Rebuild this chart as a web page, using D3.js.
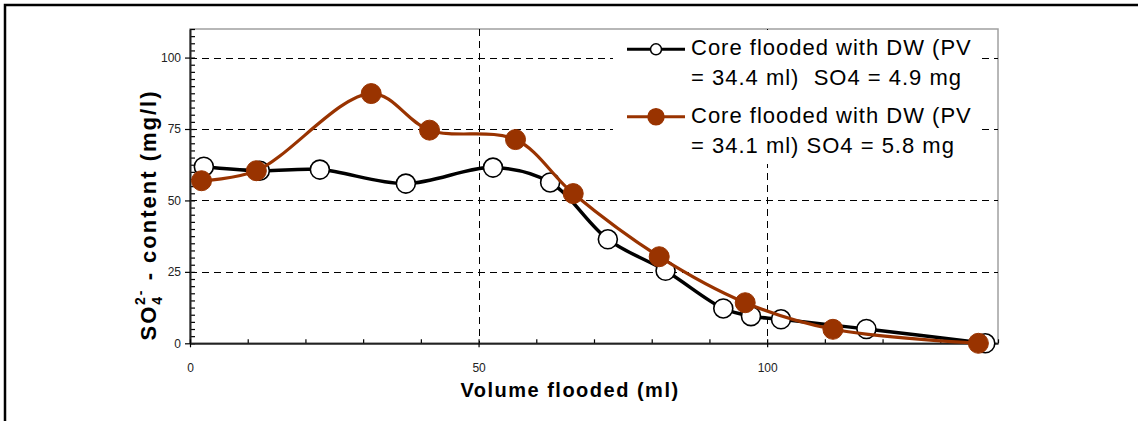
<!DOCTYPE html>
<html>
<head>
<meta charset="utf-8">
<script src="https://d3js.org/d3.v7.min.js"></script>
<style>
  html, body { margin: 0; padding: 0; background: #fff; }
  svg { display: block; }
  text { font-family: "Liberation Sans", Arial, sans-serif; }
</style>
</head>
<body>
<script>
// ---- data ----
const seriesNames = [
  ["Core flooded with DW (PV", "= 34.4 ml)  SO4 = 4.9 mg"],
  ["Core flooded with DW (PV", "= 34.1 ml) SO4 = 5.8 mg"]
];
const dwVolume1 = [2.4, 12.1, 22.5, 37.4, 52.5, 62.4, 72.4, 82.4, 92.4, 97.2, 102.4, 117.2, 137.8];
const dwSO4_1   = [61.8, 60.4, 60.8, 55.9, 61.5, 56.3, 36.4, 25.4, 12.2, 9.5, 8.4, 5.0, 0.0];
const dwVolume2 = [2.0, 11.5, 31.4, 41.5, 56.4, 66.4, 81.3, 96.2, 111.4, 136.6];
const dwSO4_2   = [56.9, 60.4, 87.4, 74.6, 71.3, 52.4, 30.3, 14.2, 4.9, 0.0];
const xTicks = [0, 50, 100];
const yTicks = [0, 25, 50, 75, 100];

const W = 1138, H = 421;
const svg = d3.select("body").append("svg").attr("width", W).attr("height", H);

// outer frame
svg.append("rect").attr("x", 5).attr("y", 5).attr("width", W + 10).attr("height", H + 10)
  .attr("fill", "#fff").attr("stroke", "#000").attr("stroke-width", 2.5);

const x = d3.scaleLinear().domain([0, 140]).range([190, 998]);
const y = d3.scaleLinear().domain([0, 110]).range([343.3, 29]);

// plot frame (top/right gray)
svg.append("rect").attr("x", x(0)).attr("y", y(110)).attr("width", x(140) - x(0)).attr("height", y(0) - y(110))
  .attr("fill", "#fff").attr("stroke", "#a0a0a0").attr("stroke-width", 1.5);

// grid lines
const grid = svg.append("g").attr("stroke", "#000").attr("stroke-width", 1).attr("stroke-dasharray", "7,5");
grid.selectAll("line.h").data(yTicks.filter(d => d > 0)).join("line").attr("class", "h")
  .attr("x1", x(0)).attr("x2", x(140)).attr("y1", d => Math.round(y(d)) + 0.5).attr("y2", d => Math.round(y(d)) + 0.5);
grid.selectAll("line.v").data(xTicks.filter(d => d > 0)).join("line").attr("class", "v")
  .attr("y1", y(110)).attr("y2", y(0)).attr("x1", d => Math.round(x(d)) + 0.5).attr("x2", d => Math.round(x(d)) + 0.5);

// legend background (covers grid)
const lg = svg.append("g");
lg.append("rect").attr("x", 613).attr("y", 30).attr("width", 367).attr("height", 134).attr("fill", "#fff");

// axes
const yMinor = d3.range(0, 110.01, 2.5);
const xMinor = d3.range(0, 140.01, 10);
const gyMinor = svg.append("g").attr("transform", `translate(${x(0)},0)`)
  .call(d3.axisRight(y).tickValues(yMinor).tickSize(5).tickFormat(""));
gyMinor.select(".domain").remove();
const gy = svg.append("g").attr("transform", `translate(${x(0)},0)`)
  .call(d3.axisLeft(y).tickValues(yTicks).tickSize(5).tickSizeOuter(0).tickPadding(4));
const gxMinor = svg.append("g").attr("transform", `translate(0,${y(0)})`)
  .call(d3.axisTop(x).tickValues(xMinor).tickSize(4).tickFormat(""));
gxMinor.select(".domain").remove();
const gx = svg.append("g").attr("transform", `translate(0,${y(0)})`)
  .call(d3.axisBottom(x).tickValues(xTicks).tickSize(4).tickSizeOuter(0).tickPadding(16));
[gy, gx, gyMinor, gxMinor].forEach(g => {
  g.selectAll("line").attr("stroke", "#000").attr("stroke-width", 1.2);
  g.select(".domain").attr("stroke", "#222").attr("stroke-width", 2);
  g.selectAll("text").attr("font-size", 12).attr("fill", "#222")
    .attr("font-family", "'Liberation Sans', Arial, sans-serif");
});

// lines
const pts1 = dwVolume1.map((v, i) => [v, dwSO4_1[i]]);
const pts2 = dwVolume2.map((v, i) => [v, dwSO4_2[i]]);
const line = d3.line().x(d => x(d[0])).y(d => y(d[1])).curve(d3.curveCatmullRom.alpha(0.5));
const red = "#993300";

svg.append("path").datum(pts1).attr("d", line).attr("fill", "none").attr("stroke", "#000").attr("stroke-width", 3.5);
svg.selectAll("circle.s1").data(pts1).join("circle").attr("class", "s1")
  .attr("cx", d => x(d[0])).attr("cy", d => y(d[1])).attr("r", 9.5)
  .attr("fill", "#fff").attr("stroke", "#000").attr("stroke-width", 1.6);

svg.append("path").datum(pts2).attr("d", line).attr("fill", "none").attr("stroke", red).attr("stroke-width", 3.2);
svg.selectAll("circle.s2").data(pts2).join("circle").attr("class", "s2")
  .attr("cx", d => x(d[0])).attr("cy", d => y(d[1])).attr("r", 10)
  .attr("fill", red).attr("stroke", red).attr("stroke-width", 1);

// legend
const legendY = [49.3, 116.7];
[0, 1].forEach(i => {
  const c = i === 0 ? "#000" : red;
  lg.append("line").attr("x1", 627).attr("x2", 685).attr("y1", legendY[i]).attr("y2", legendY[i])
    .attr("stroke", c).attr("stroke-width", 3);
  lg.append("circle").attr("cx", 656).attr("cy", legendY[i]).attr("r", i === 0 ? 5.5 : 8)
    .attr("fill", i === 0 ? "#fff" : red).attr("stroke", c).attr("stroke-width", 1.5);
  seriesNames[i].forEach((t, j) => {
    lg.append("text").attr("x", 691).attr("y", legendY[i] + 6 + j * 30)
      .attr("font-size", 22).attr("letter-spacing", 1).style("white-space", "pre")
      .attr("fill", "#000").text(t);
  });
});

// axis titles
svg.append("text").attr("x", 570).attr("y", 397).attr("text-anchor", "middle")
  .attr("font-size", 20).attr("font-weight", "bold").attr("letter-spacing", 1.5).text("Volume flooded (ml)");

const yt = svg.append("text").attr("transform", "translate(156,215) rotate(-90)")
  .attr("text-anchor", "middle").attr("font-size", 22).attr("font-weight", "bold").attr("letter-spacing", 2)
  .style("white-space", "pre");
yt.append("tspan").text("SO");
yt.append("tspan").attr("font-size", 14).attr("dy", 6).text("4");
yt.append("tspan").attr("font-size", 14).attr("dx", -10).attr("dy", -17).text("2-");
yt.append("tspan").attr("dy", 11).text(" - content (mg/l)");
</script>
</body>
</html>
